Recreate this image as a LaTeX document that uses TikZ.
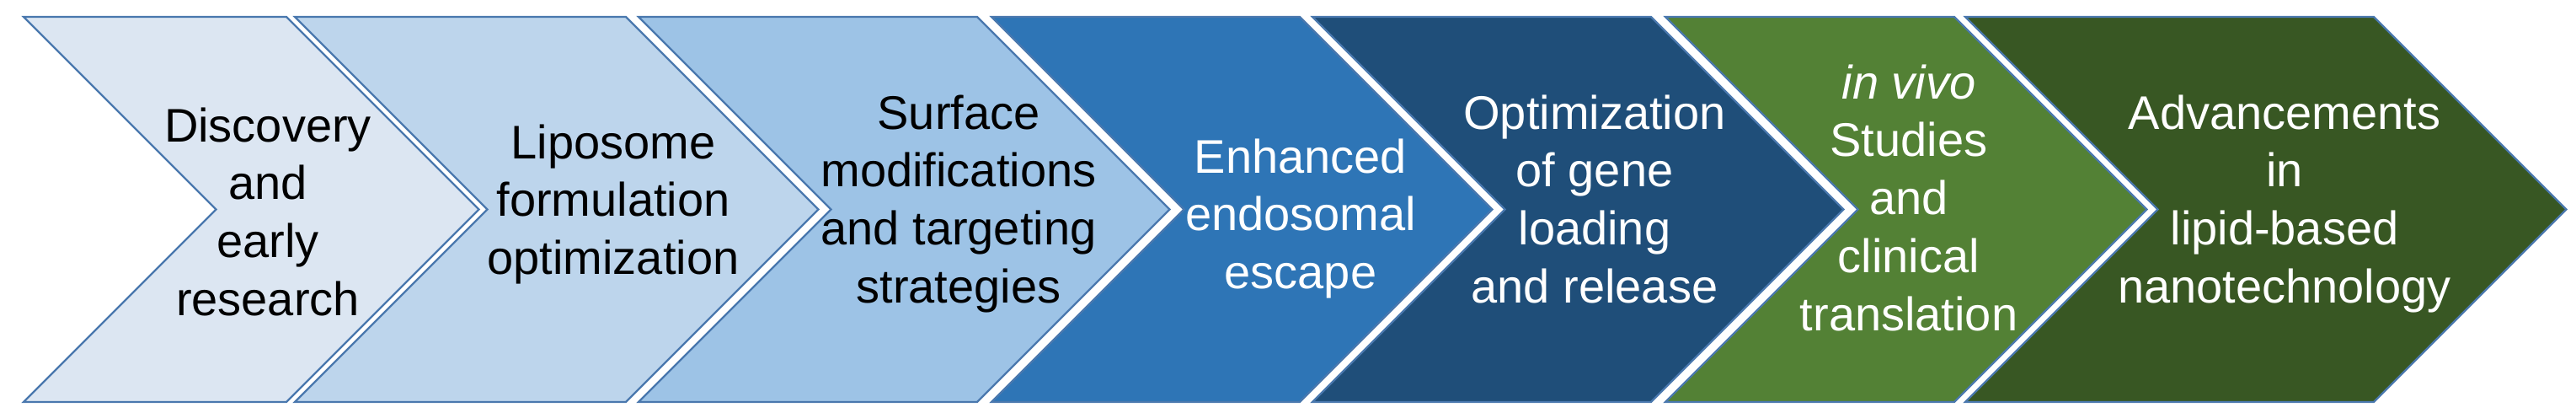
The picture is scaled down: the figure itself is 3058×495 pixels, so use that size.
\documentclass[tikz,border=0pt]{standalone}
\usepackage{fontspec}
\setmainfont{Liberation Sans}
\definecolor{cA}{HTML}{DCE6F2}
\definecolor{cB}{HTML}{BDD5EC}
\definecolor{cC}{HTML}{9DC3E6}
\definecolor{cD}{HTML}{2E75B6}
\definecolor{cE}{HTML}{1F4E79}
\definecolor{cF}{HTML}{538135}
\definecolor{cG}{HTML}{385723}
\definecolor{edgeblue}{HTML}{4A78AE}
\newcommand\mychev[3]{%
  \draw[chev, fill=#3] (#1,20) -- (#2,20) -- (#2+228.5,248.5) -- (#2,477)
    -- (#1,477) -- (#1+228.5,248.5) -- cycle;}
\begin{document}
\begin{tikzpicture}[x=0.5pt,y=-0.5pt,
  chev/.style={draw=edgeblue, line width=1.1pt, line join=miter},
  lbl/.style={font=\fontsize{28}{34}\selectfont, anchor=base, inner sep=0pt}]
\useasboundingbox (0,0) rectangle (3058,495);
\mychev{28}{340}{cA}
\mychev{350}{743}{cB}
\mychev{758}{1160}{cC}
\mychev{1177}{1543}{cD}
\mychev{1558}{1960}{cE}
\mychev{1977}{2320}{cF}
\mychev{2333}{2818}{cG}
\foreach \t [count=\i from 0] in {Discovery,and,early,research}
  \node[lbl] (a\i) at (318,168+68.8*\i) {\t};
\foreach \t [count=\i from 0] in {Liposome,formulation,optimization}
  \node[lbl] (b\i) at (728,188+68.8*\i) {\t};
\foreach \t [count=\i from 0] in {Surface,modifications,and targeting,strategies}
  \node[lbl] (c\i) at (1138,153+68.8*\i) {\t};
\foreach \t [count=\i from 0] in {Enhanced,endosomal,escape}
  \node[lbl,text=white] (d\i) at (1544,205+68.8*\i) {\t};
\foreach \t [count=\i from 0] in {Optimization,of gene,loading,and release}
  \node[lbl,text=white] (e\i) at (1893,153+68.8*\i) {\t};
\foreach \t [count=\i from 0] in {{\itshape in vivo},Studies,and,clinical,translation}
  \node[lbl,text=white] (f\i) at (2266,117+68.9*\i) {\t};
\foreach \t [count=\i from 0] in {Advancements,in,lipid-based,nanotechnology}
  \node[lbl,text=white] (g\i) at (2712,153+68.8*\i) {\t};
\end{tikzpicture}
\end{document}
